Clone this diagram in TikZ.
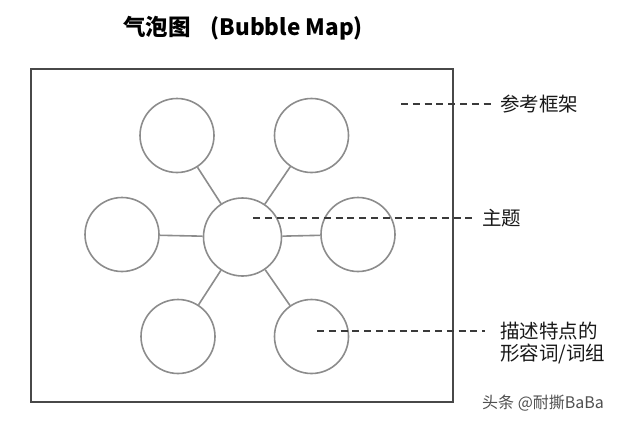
\documentclass[tikz,border=0pt]{standalone}
\usepackage{fontspec}
\setmainfont{Noto Sans CJK SC}
\usetikzlibrary{positioning}
\definecolor{bubblegray}{HTML}{8C8C8C}
\definecolor{framegray}{HTML}{484848}
\definecolor{dashgray}{HTML}{3A3A3A}
\definecolor{markgray}{HTML}{505050}
\tikzset{
	bubble/.style={circle, draw=bubblegray, line width=1.6pt, fill=white, minimum size=74pt, inner sep=0pt},
	spoke/.style={draw=bubblegray, line width=1.6pt},
	pointer/.style={draw=dashgray, line width=1.2pt, dash pattern=on 7pt off 4.8pt},
	lbl/.style={anchor=west, inner sep=0pt, text=black!90, font=\fontsize{19.5}{23}\selectfont},
}
\begin{document}
\begin{tikzpicture}[x=1pt, y=-1pt]
		\useasboundingbox[fill=white] (0,0) rectangle (620,423);
		
		\node (title) at (243,28) {\fontsize{22.5}{26}\selectfont\bfseries 气泡图\hspace{20pt}(Bubble Map)};
		\draw[framegray, line width=2pt] (31,69) rectangle (453,402);
		
		\node[bubble, minimum size=78pt] (topic) at (242.5,237) {};
		\node[bubble] (tl) at (177,135.5) {};
		\node[bubble] (tr) at (311.5,135.5) {};
		\node[bubble] (l) at (122,234.5) {};
		\node[bubble] (r) at (358,234.5) {};
		\node[bubble] (bl) at (178,336.5) {};
		\node[bubble] (br) at (311.5,336.5) {};
		
		\foreach \b in {tl,tr,l,r,bl,br}
			\draw[spoke] (topic) -- (\b);
		
		\node[lbl] (frame-lbl) at (500,104) {参考框架};
		\node[lbl] (topic-lbl) at (482,218) {主题};
		\node[lbl] (desc) at (500,331) {描述特点的};
		\node[lbl] (desc-2) at (500,354) {形容词/词组};
		\node[anchor=west, inner sep=0pt, text=markgray, font=\fontsize{16}{18}\selectfont] (mark) at (482,403) {头条 @耐撕BaBa};
		
		\coordinate (frame-pt) at (401,104);
		\coordinate (topic-pt) at (253,218);
		\coordinate (desc-pt) at (317,331);
		\draw[pointer, shorten >=5pt] (frame-pt) -- (frame-lbl.west);
		\draw[pointer, shorten >=5pt] (topic-pt) -- (topic-lbl.west);
		\draw[pointer, shorten >=15pt] (desc-pt) -- (desc.west);
	\end{tikzpicture}
\end{document}
